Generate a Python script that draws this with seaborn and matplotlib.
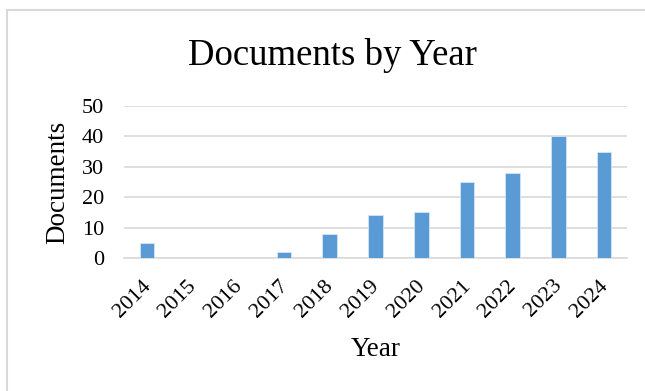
import matplotlib
matplotlib.use("Agg")
import matplotlib.pyplot as plt
import matplotlib.transforms as mtransforms
from matplotlib.patches import Rectangle
import seaborn as sns
import pandas as pd

years = ["2014", "2015", "2016", "2017", "2018", "2019", "2020", "2021", "2022", "2023", "2024"]
documents = [5, 0, 0, 2, 8, 14, 15, 25, 28, 40, 35]
yticks = [0, 10, 20, 30, 40, 50]

sns.set_theme(style="white")
plt.rcParams['font.family'] = ['Liberation Serif', 'DejaVu Serif']
plt.rcParams['text.color'] = 'black'
plt.rcParams['axes.labelcolor'] = 'black'

W, H = 645, 391
fig = plt.figure(figsize=(W / 100, H / 100), dpi=100)
fig.patch.set_facecolor("white")

# outer light border (chart area frame)
fig.patches.append(Rectangle((6.5 / W, -0.1), 1.2, 1.1 - 9.5 / H, transform=fig.transFigure,
                             fill=False, edgecolor="#D9D9D9", linewidth=1.5, zorder=0))

ax = fig.add_axes([124 / W, 1 - 258 / H, (627 - 124) / W, (258 - 106) / H])
df = pd.DataFrame({"Year": years, "Documents": documents})
sns.barplot(data=df, x="Year", y="Documents", color="#5B9BD5", saturation=1, width=0.32,
            edgecolor="#D6E4F3", linewidth=0.6, ax=ax, zorder=3)

ax.set_ylim(0, 50)
ax.set_xlim(-0.5, len(years) - 0.5)
ax.set_yticks(yticks)
ax.set_yticklabels([str(t) for t in yticks], fontsize=16)
ax.yaxis.grid(True, color="#D9D9D9", linewidth=1.2, zorder=0)
ax.set_axisbelow(True)
for s in ["top", "right", "left"]:
    ax.spines[s].set_visible(False)
ax.spines["bottom"].set_color("#D9D9D9")
ax.spines["bottom"].set_linewidth(1.2)
ax.tick_params(axis="both", length=0, colors="black")
ax.tick_params(axis="y", pad=14.5)

ax.set_xticks(range(len(years)))
ax.set_xticklabels(years, fontsize=16, rotation=45, ha="right", va="center", rotation_mode="anchor")
offset = mtransforms.ScaledTranslation(1 / 100, -20 / 100, fig.dpi_scale_trans)
for lbl in ax.get_xticklabels():
    lbl.set_transform(lbl.get_transform() + offset)

ax.set_xlabel("Year", fontsize=19.5)
ax.set_ylabel("Documents", fontsize=19.5)
ax.xaxis.set_label_coords(0.5, -(350 - 258) / (258 - 106), transform=ax.transAxes)
ax.xaxis.label.set_va("center")
ax.yaxis.set_label_coords(-(124 - 58) / (627 - 124), 0.5, transform=ax.transAxes)
ax.yaxis.label.set_va("center")

fig.text((186 + 478) / 2 / W, 1 - 65 / H, "Documents by Year", fontsize=26.5, ha="center", va="baseline")

fig.savefig("out.png", dpi=100, facecolor="white")
